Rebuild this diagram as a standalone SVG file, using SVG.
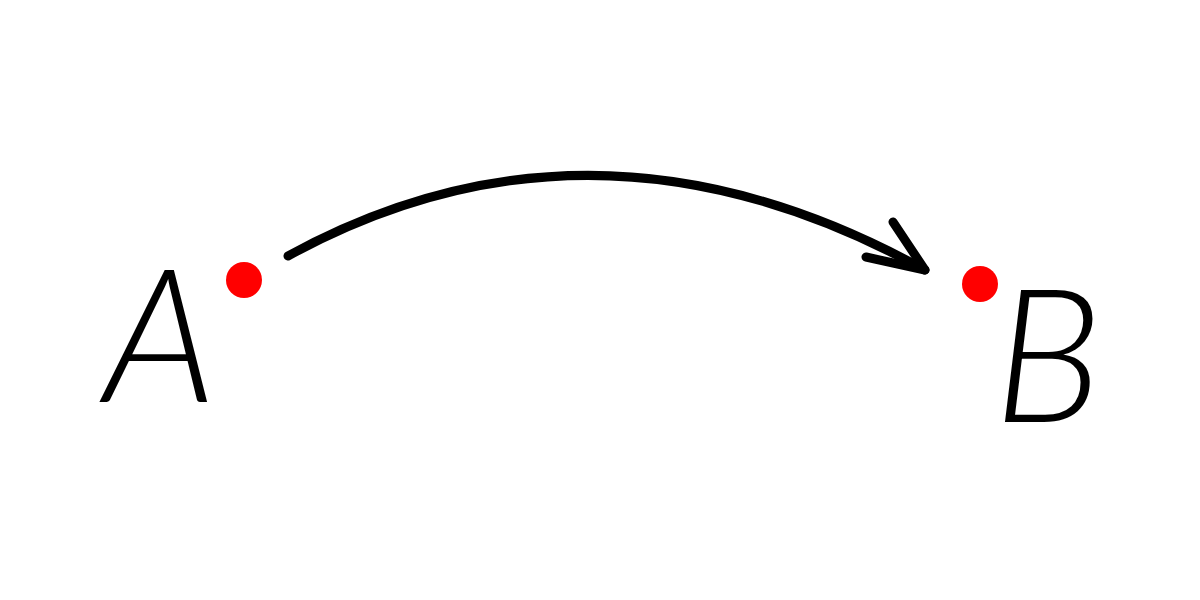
<svg xmlns="http://www.w3.org/2000/svg" width="1200" height="600" viewBox="0 0 1200 600">
<style>
.lbl{font-family:Lato,"Open Sans","Liberation Sans",sans-serif;font-weight:300;font-style:italic;font-size:185px;fill:#000;text-anchor:middle}
.dot{fill:#ff0000}
.ln{fill:none;stroke:#000;stroke-width:9;stroke-linecap:round;stroke-linejoin:round}
</style>
<rect width="1200" height="600" fill="#fff"/>
<g id="nodeA">
<text class="lbl" x="160" y="402">A</text>
<circle class="dot" cx="244" cy="280" r="18"/>
</g>
<g id="nodeB">
<circle class="dot" cx="980" cy="284" r="18"/>
<text class="lbl" x="1048" y="422">B</text>
</g>
<g id="connectors">
<path class="ln" d="M288,256 Q595,88 925,270"/>
<path class="ln" d="M866,257 L925,270 L893,222"/>
</g>
</svg>
